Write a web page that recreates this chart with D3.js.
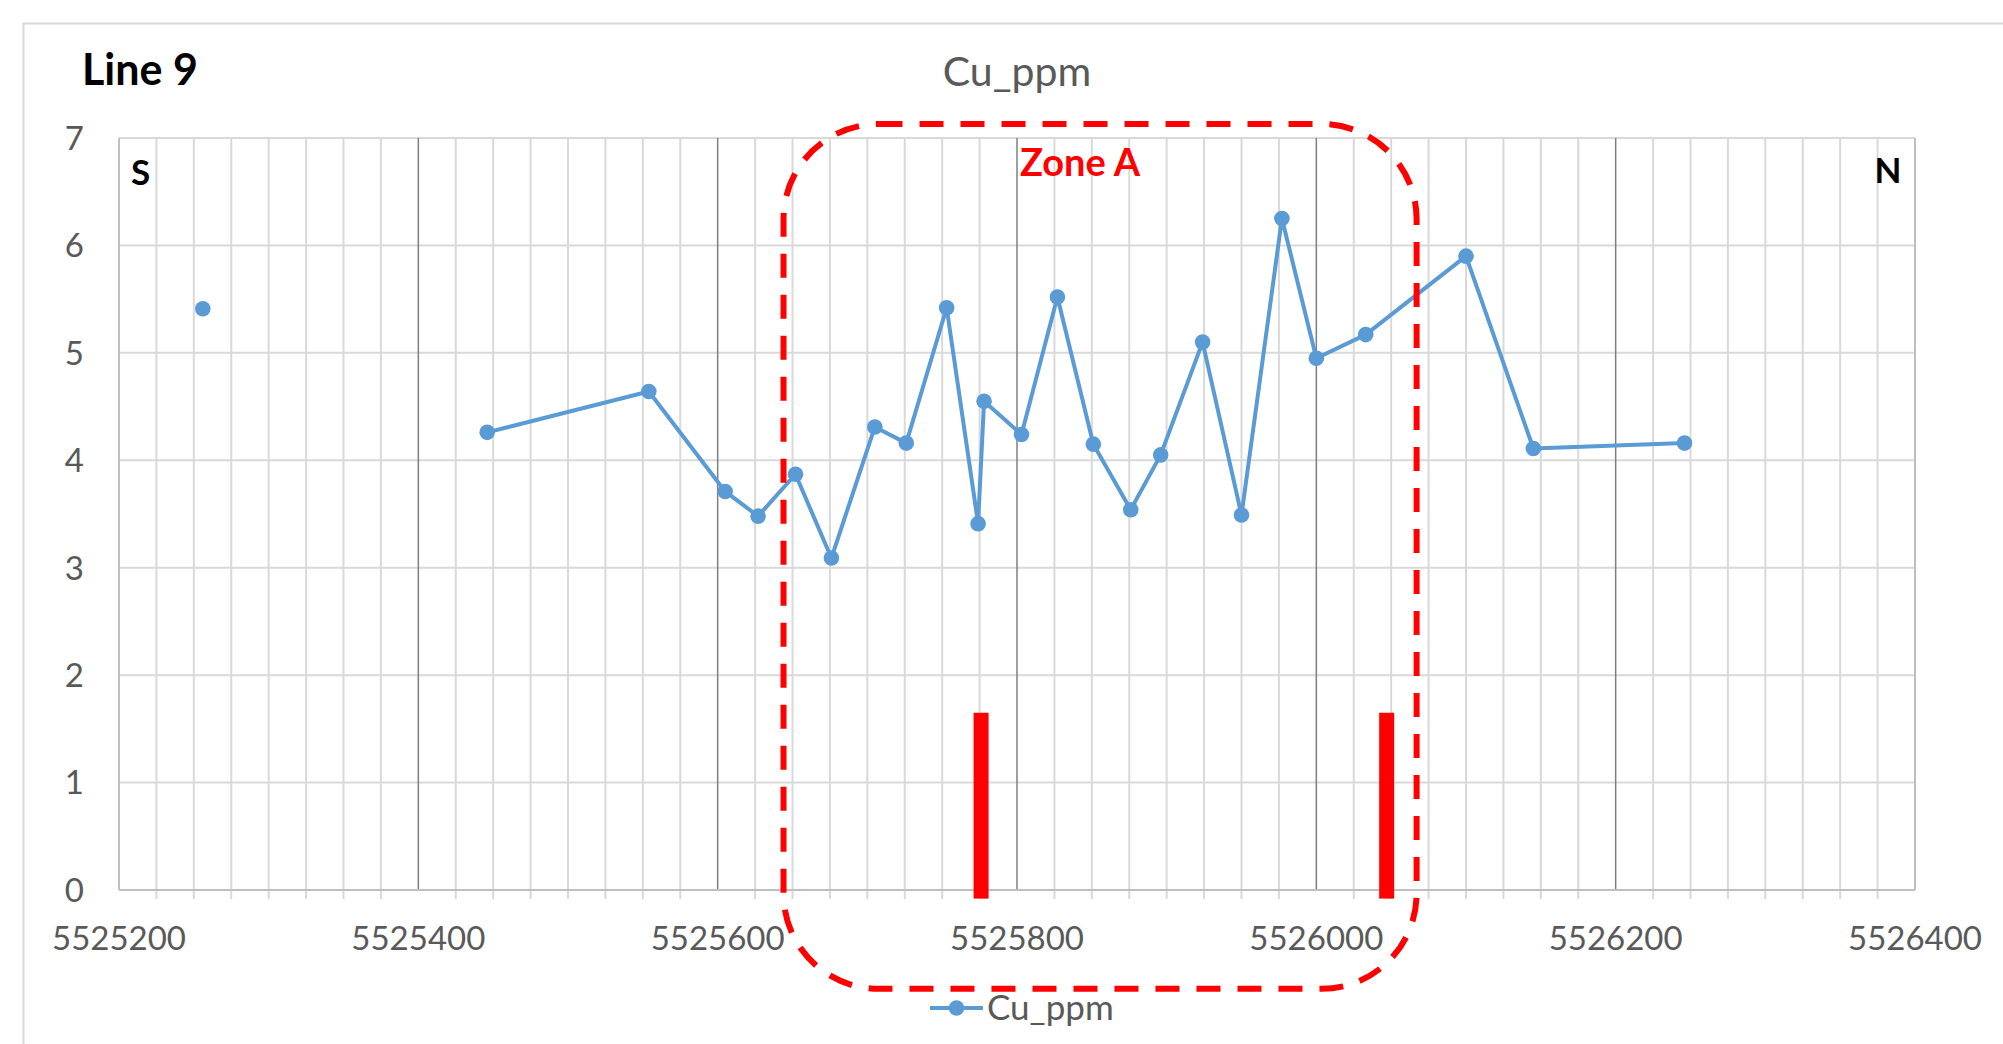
<!DOCTYPE html>
<html><head><meta charset="utf-8">
<script src="https://cdn.jsdelivr.net/npm/d3@7"></script>
<style>body{margin:0;background:#fff;} svg{display:block;font-family:Lato, "Open Sans", sans-serif;}</style>
</head><body>
<svg id="c" width="2003" height="1044"></svg>
<script>
// ---- data ----
const chartTitle = "Cu_ppm";
const lineLabel = "Line 9";
const seriesName = "Cu_ppm";
const northing = [5525256, null, 5525446, 5525554, 5525605, 5525627, 5525652, 5525676, 5525705, 5525726,
  5525753, 5525774, 5525778, 5525803, 5525827, 5525851, 5525876, 5525896, 5525924, 5525950,
  5525977, 5526000, 5526033, 5526100, 5526145, 5526246];
const cuPpm = [5.41, null, 4.26, 4.64, 3.71, 3.48, 3.87, 3.09, 4.31, 4.16,
  5.42, 3.41, 4.55, 4.24, 5.52, 4.15, 3.54, 4.05, 5.10, 3.49,
  6.25, 4.95, 5.17, 5.90, 4.11, 4.16];
const xTicks = [5525200, 5525400, 5525600, 5525800, 5526000, 5526200, 5526400];
const yTicks = [0, 1, 2, 3, 4, 5, 6, 7];
const markerX = [5525776, 5526047];
const markerTop = [1.65, 1.65];
const markerBase = -0.08;
const zoneName = "Zone A";
const zoneX = [5525644, 5526067];
const zoneY = [7.13, -0.92];
const zoneLabelPos = [5525802, 6.65];
const dirLabels = [{t:"S", x:5525208, y:6.56, a:"start"}, {t:"N", x:5526391, y:6.58, a:"end"}];

// ---- layout ----
const svg = d3.select("#c");
const L = 119, R = 1915, T = 138, B = 890;
const x = d3.scaleLinear().domain([5525200, 5526400]).range([L, R]);
const y = d3.scaleLinear().domain([0, 7]).range([B, T]);

// outer border
svg.append("rect").attr("x", 23.5).attr("y", 23.5).attr("width", 2100).attr("height", 1100)
  .attr("fill", "none").attr("stroke", "#d9d9d9").attr("stroke-width", 2);

// minor vertical gridlines every 25
const minor = d3.range(5525200, 5526400.1, 25);
svg.append("g").selectAll("line").data(minor.filter(v => v % 200 !== 0)).join("line")
  .attr("x1", d => x(d)).attr("x2", d => x(d)).attr("y1", T).attr("y2", B + 9)
  .attr("stroke", "#d9d9d9").attr("stroke-width", 2);
// horizontal gridlines
svg.append("g").selectAll("line").data(yTicks.filter(v => v > 0)).join("line")
  .attr("x1", L).attr("x2", R).attr("y1", d => y(d)).attr("y2", d => y(d))
  .attr("stroke", "#d9d9d9").attr("stroke-width", 2);
// major vertical gridlines
svg.append("g").selectAll("line").data(xTicks).join("line")
  .attr("x1", d => x(d)).attr("x2", d => x(d)).attr("y1", T).attr("y2", B)
  .attr("stroke", (d, i) => (i === 0 || i === xTicks.length - 1) ? "#bfbfbf" : "#7f7f7f")
  .attr("stroke-width", (d, i) => (i === 0 || i === xTicks.length - 1) ? 2 : 1.5);
// x axis line
svg.append("line").attr("x1", L).attr("x2", R).attr("y1", B).attr("y2", B)
  .attr("stroke", "#bfbfbf").attr("stroke-width", 2);

// axis labels
svg.append("g").selectAll("text").data(xTicks).join("text")
  .attr("x", d => x(d)).attr("y", 950).attr("text-anchor", "middle")
  .attr("font-size", 33).attr("fill", "#595959").text(d => d);
svg.append("g").selectAll("text").data(yTicks).join("text")
  .attr("x", 84).attr("y", d => y(d)).attr("dy", "0.36em").attr("text-anchor", "end")
  .attr("font-size", 33).attr("fill", "#595959").text(d => d);

// titles
svg.append("text").attr("x", (L + R) / 2).attr("y", 86).attr("text-anchor", "middle")
  .attr("font-size", 41).attr("fill", "#595959").text(chartTitle);
svg.append("text").attr("x", 82).attr("y", 85).attr("font-size", 43).attr("font-weight", "bold")
  .attr("fill", "#000").text(lineLabel);
svg.append("g").selectAll("text").data(dirLabels).join("text")
  .attr("x", d => x(d.x)).attr("y", d => y(d.y)).attr("text-anchor", d => d.a)
  .attr("font-size", 35).attr("font-weight", "bold").attr("fill", "#000").text(d => d.t);

// series
const pts = northing.map((n, i) => ({n, v: cuPpm[i]}));
const line = d3.line().defined(d => d.n !== null && d.v !== null).x(d => x(d.n)).y(d => y(d.v));
svg.append("path").datum(pts).attr("d", line).attr("fill", "none")
  .attr("stroke", "#5b9bd5").attr("stroke-width", 4).attr("stroke-linejoin", "round");
svg.append("g").selectAll("circle").data(pts.filter(d => d.n !== null)).join("circle")
  .attr("cx", d => x(d.n)).attr("cy", d => y(d.v)).attr("r", 7.8).attr("fill", "#5b9bd5");

// red markers (bars)
svg.append("g").selectAll("rect").data(markerX).join("rect")
  .attr("x", d => x(d) - 7.5).attr("width", 15)
  .attr("y", (d, i) => y(markerTop[i])).attr("height", (d, i) => y(markerBase) - y(markerTop[i]))
  .attr("fill", "#ff0000");

// zone box
svg.append("rect").attr("x", x(zoneX[0])).attr("y", y(zoneY[0]))
  .attr("width", x(zoneX[1]) - x(zoneX[0])).attr("height", y(zoneY[1]) - y(zoneY[0]))
  .attr("rx", 95).attr("ry", 95).attr("fill", "none").attr("stroke", "#ff0000")
  .attr("stroke-width", 6).attr("stroke-dasharray", "24,17");
svg.append("text").attr("x", x(zoneLabelPos[0])).attr("y", y(zoneLabelPos[1]))
  .attr("font-size", 38).attr("font-weight", "bold").attr("fill", "#ff0000").text(zoneName);

// legend
const lg = svg.append("g").attr("transform", "translate(930,1008)");
lg.append("line").attr("x1", 0).attr("x2", 53).attr("stroke", "#5b9bd5").attr("stroke-width", 4);
lg.append("circle").attr("cx", 26.5).attr("r", 7.8).attr("fill", "#5b9bd5");
lg.append("text").attr("x", 57).attr("y", 12).attr("font-size", 35).attr("fill", "#595959").text(seriesName);
</script>
</body></html>
